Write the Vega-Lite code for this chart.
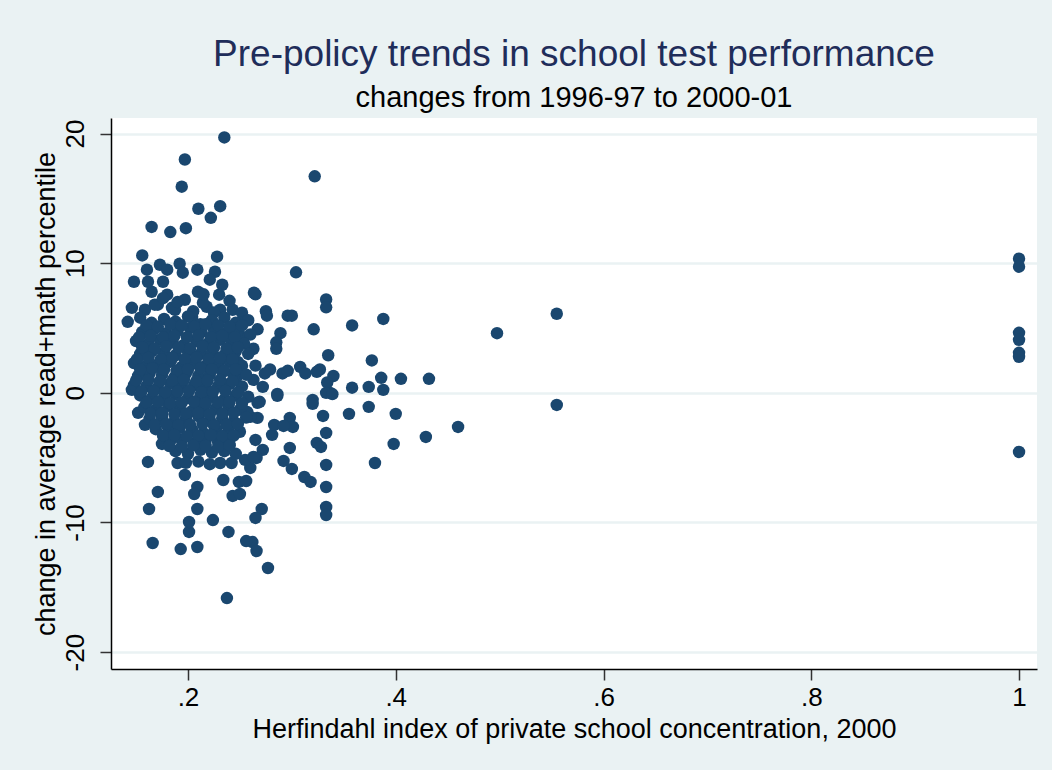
{
  "$schema": "https://vega.github.io/schema/vega-lite/v6.json",
  "width": 926,
  "height": 551,
  "autosize": {"type": "none"},
  "padding": {"left": 111, "top": 118, "right": 15, "bottom": 101},
  "background": "#eaf2f3",
  "title": {
    "text": "Pre-policy trends in school test performance",
    "subtitle": "changes from 1996-97 to 2000-01",
    "anchor": "middle",
    "frame": "group",
    "font": "Liberation Sans",
    "fontSize": 37,
    "fontWeight": "normal",
    "color": "#1f2d5a",
    "subtitleFont": "Liberation Sans",
    "subtitleFontSize": 29,
    "subtitleColor": "#000000",
    "subtitlePadding": 10,
    "offset": 4
  },
  "config": {
    "view": {"stroke": null, "fill": "#ffffff"},
    "axis": {
      "labelFont": "Liberation Sans",
      "titleFont": "Liberation Sans",
      "labelFontSize": 26,
      "titleFontSize": 27,
      "titleFontWeight": "normal",
      "labelColor": "#000000",
      "titleColor": "#000000",
      "domainColor": "#000000",
      "tickColor": "#333333",
      "domainWidth": 1.5,
      "tickWidth": 1.5,
      "tickSize": 11
    }
  },
  "data": {
    "values": [
      {"h": 0.235, "c": 19.7}, {"h": 0.197, "c": 18.0}, {"h": 0.194, "c": 15.9}, {"h": 0.210, "c": 14.2},
      {"h": 0.222, "c": 13.5}, {"h": 0.231, "c": 14.4}, {"h": 0.165, "c": 12.8}, {"h": 0.183, "c": 12.4},
      {"h": 0.198, "c": 12.7}, {"h": 0.156, "c": 10.6}, {"h": 0.228, "c": 10.5}, {"h": 0.322, "c": 16.7},
      {"h": 0.304, "c": 9.3}, {"h": 0.265, "c": 7.6}, {"h": 0.275, "c": 6.3}, {"h": 0.276, "c": 5.95},
      {"h": 0.296, "c": 5.95}, {"h": 0.300, "c": 5.95}, {"h": 0.333, "c": 7.2}, {"h": 0.333, "c": 6.6},
      {"h": 0.267, "c": 4.9}, {"h": 0.289, "c": 4.6}, {"h": 0.321, "c": 4.9}, {"h": 0.358, "c": 5.2},
      {"h": 0.388, "c": 5.7}, {"h": 0.4975, "c": 4.6}, {"h": 0.263, "c": 3.4}, {"h": 0.285, "c": 3.9},
      {"h": 0.285, "c": 3.4}, {"h": 0.335, "c": 2.9}, {"h": 0.377, "c": 2.5}, {"h": 0.265, "c": 2.1},
      {"h": 0.279, "c": 1.8}, {"h": 0.274, "c": 1.5}, {"h": 0.291, "c": 1.5}, {"h": 0.296, "c": 1.7},
      {"h": 0.308, "c": 2.0}, {"h": 0.313, "c": 1.5}, {"h": 0.327, "c": 1.8}, {"h": 0.340, "c": 1.3},
      {"h": 0.334, "c": 0.8}, {"h": 0.337, "c": 0.0}, {"h": 0.263, "c": 1.0}, {"h": 0.272, "c": 0.46},
      {"h": 0.286, "c": -0.08}, {"h": 0.358, "c": 0.4}, {"h": 0.374, "c": 0.46}, {"h": 0.386, "c": 1.16},
      {"h": 0.388, "c": 0.23}, {"h": 0.405, "c": 1.08}, {"h": 0.432, "c": 1.08}, {"h": 0.320, "c": -0.54},
      {"h": 0.333, "c": 0.0}, {"h": 0.339, "c": -0.1}, {"h": 0.267, "c": -0.77}, {"h": 0.286, "c": -0.23},
      {"h": 0.320, "c": -0.85}, {"h": 0.330, "c": -1.78}, {"h": 0.355, "c": -1.62}, {"h": 0.374, "c": -1.08},
      {"h": 0.400, "c": -1.62}, {"h": 0.460, "c": -2.63}, {"h": 0.429, "c": -3.4}, {"h": 0.398, "c": -3.94},
      {"h": 0.380, "c": -5.41}, {"h": 0.333, "c": -3.09}, {"h": 0.324, "c": -3.86}, {"h": 0.328, "c": -4.17},
      {"h": 0.333, "c": -5.56}, {"h": 0.333, "c": -7.26}, {"h": 0.333, "c": -8.8}, {"h": 0.333, "c": -9.42},
      {"h": 0.298, "c": -4.25}, {"h": 0.292, "c": -5.25}, {"h": 0.300, "c": -5.87}, {"h": 0.312, "c": -6.49},
      {"h": 0.318, "c": -6.87}, {"h": 0.265, "c": -3.63}, {"h": 0.272, "c": -4.4}, {"h": 0.266, "c": -5.02},
      {"h": 0.260, "c": -5.79}, {"h": 0.281, "c": -3.24}, {"h": 0.283, "c": -2.47}, {"h": 0.298, "c": -1.93},
      {"h": 0.301, "c": -2.63}, {"h": 0.292, "c": -2.55}, {"h": 0.267, "c": -1.93}, {"h": 0.260, "c": -1.85},
      {"h": 0.271, "c": -8.96}, {"h": 0.265, "c": -9.65}, {"h": 0.262, "c": -11.51}, {"h": 0.266, "c": -12.2},
      {"h": 0.277, "c": -13.51}, {"h": 0.166, "c": -11.58}, {"h": 0.193, "c": -12.05}, {"h": 0.209, "c": -11.89},
      {"h": 0.201, "c": -10.73}, {"h": 0.201, "c": -9.96}, {"h": 0.224, "c": -9.81}, {"h": 0.239, "c": -10.73},
      {"h": 0.256, "c": -11.43}, {"h": 0.2375, "c": -15.83}, {"h": 0.1615, "c": -5.33}, {"h": 0.171, "c": -7.64},
      {"h": 0.1625, "c": -8.96}, {"h": 0.175, "c": -3.94}, {"h": 0.190, "c": -5.41}, {"h": 0.197, "c": -6.33},
      {"h": 0.209, "c": -7.26}, {"h": 0.206, "c": -7.8}, {"h": 0.209, "c": -8.96}, {"h": 0.234, "c": -6.72},
      {"h": 0.249, "c": -6.87}, {"h": 0.256, "c": -6.8}, {"h": 0.243, "c": -7.95}, {"h": 0.250, "c": -7.8},
      {"h": 0.231, "c": -5.41}, {"h": 0.242, "c": -5.41}, {"h": 0.255, "c": -5.17}, {"h": 0.263, "c": -4.94},
      {"h": 0.257, "c": -1.47}, {"h": 0.2385, "c": -3.09}, {"h": 0.234, "c": -3.63}, {"h": 0.240, "c": -4.02},
      {"h": 0.269, "c": -0.69}, {"h": 0.148, "c": 8.57}, {"h": 0.1605, "c": 9.5}, {"h": 0.173, "c": 9.88},
      {"h": 0.180, "c": 9.5}, {"h": 0.192, "c": 9.96}, {"h": 0.209, "c": 9.5}, {"h": 0.226, "c": 9.34},
      {"h": 0.221, "c": 8.73}, {"h": 0.233, "c": 8.34}, {"h": 0.195, "c": 9.27}, {"h": 0.165, "c": 7.8},
      {"h": 0.176, "c": 8.57}, {"h": 0.180, "c": 7.57}, {"h": 0.2096, "c": 7.8}, {"h": 0.230, "c": 7.57},
      {"h": 0.142, "c": 5.48}, {"h": 0.146, "c": 6.56}, {"h": 0.1586, "c": 6.41}, {"h": 0.171, "c": 6.8},
      {"h": 0.1846, "c": 6.56}, {"h": 0.197, "c": 7.18}, {"h": 0.218, "c": 6.64}, {"h": 0.231, "c": 6.41},
      {"h": 0.243, "c": 6.41}, {"h": 0.252, "c": 6.18}, {"h": 0.2635, "c": 7.72}, {"h": 0.250, "c": 5.41},
      {"h": 0.252, "c": 4.32}, {"h": 0.248, "c": 2.39}, {"h": 0.247, "c": 1.24}, {"h": 0.234, "c": 2.7},
      {"h": 0.324, "c": 1.62}, {"h": 0.1615, "c": 8.57}, {"h": 0.2144, "c": 6.95}, {"h": 0.204, "c": 5.87},
      {"h": 0.1875, "c": 6.41}, {"h": 0.168, "c": 6.8}, {"h": 0.152, "c": -1.54}, {"h": 0.1586, "c": -2.47},
      {"h": 0.175, "c": -1.7}, {"h": 0.181, "c": -2.63}, {"h": 0.194, "c": -3.63}, {"h": 0.204, "c": -2.86},
      {"h": 0.146, "c": 0.23}, {"h": 0.555, "c": 6.1}, {"h": 0.555, "c": -0.93},
      {"h": 1.0, "c": 10.35}, {"h": 1.0, "c": 9.73}, {"h": 1.0, "c": 4.63}, {"h": 1.0, "c": 4.09},
      {"h": 1.0, "c": 3.09}, {"h": 1.0, "c": 2.78}, {"h": 1.0, "c": -4.56},
      {"h": 0.190, "c": 7.0}, {"h": 0.215, "c": 7.6}, {"h": 0.225, "c": 6.2}, {"h": 0.240, "c": 7.1},
      {"h": 0.176, "c": 7.3}, {"h": 0.205, "c": 6.3},
      {"h": 0.154, "c": 5.8}, {"h": 0.165, "c": 5.4}, {"h": 0.177, "c": 5.7}, {"h": 0.188, "c": 5.5},
      {"h": 0.200, "c": 5.9}, {"h": 0.212, "c": 5.3}, {"h": 0.223, "c": 5.6}, {"h": 0.235, "c": 5.8},
      {"h": 0.246, "c": 5.4}, {"h": 0.258, "c": 5.6},
      {"h": 0.156, "c": 4.7}, {"h": 0.167, "c": 4.9}, {"h": 0.179, "c": 4.6}, {"h": 0.190, "c": 4.8},
      {"h": 0.202, "c": 5.0}, {"h": 0.213, "c": 4.7}, {"h": 0.225, "c": 4.9}, {"h": 0.237, "c": 4.6},
      {"h": 0.248, "c": 4.8}, {"h": 0.260, "c": 4.5},
      {"h": 0.150, "c": 4.0}, {"h": 0.162, "c": 3.8}, {"h": 0.173, "c": 4.1}, {"h": 0.185, "c": 3.9},
      {"h": 0.196, "c": 3.7}, {"h": 0.208, "c": 4.0}, {"h": 0.219, "c": 3.8}, {"h": 0.231, "c": 4.1},
      {"h": 0.242, "c": 3.9}, {"h": 0.254, "c": 3.8},
      {"h": 0.154, "c": 3.0}, {"h": 0.165, "c": 3.2}, {"h": 0.177, "c": 3.1}, {"h": 0.188, "c": 2.9},
      {"h": 0.200, "c": 3.2}, {"h": 0.212, "c": 3.0}, {"h": 0.223, "c": 3.1}, {"h": 0.235, "c": 2.9},
      {"h": 0.246, "c": 3.2}, {"h": 0.258, "c": 3.0},
      {"h": 0.148, "c": 2.3}, {"h": 0.160, "c": 2.1}, {"h": 0.171, "c": 2.2}, {"h": 0.183, "c": 2.4},
      {"h": 0.194, "c": 2.0}, {"h": 0.206, "c": 2.3}, {"h": 0.217, "c": 2.1}, {"h": 0.229, "c": 2.2},
      {"h": 0.240, "c": 2.4}, {"h": 0.252, "c": 2.1},
      {"h": 0.152, "c": 1.3}, {"h": 0.163, "c": 1.5}, {"h": 0.175, "c": 1.4}, {"h": 0.187, "c": 1.2},
      {"h": 0.198, "c": 1.5}, {"h": 0.210, "c": 1.3}, {"h": 0.221, "c": 1.4}, {"h": 0.233, "c": 1.6},
      {"h": 0.244, "c": 1.3}, {"h": 0.256, "c": 1.4},
      {"h": 0.148, "c": 0.6}, {"h": 0.160, "c": 0.5}, {"h": 0.171, "c": 0.4}, {"h": 0.183, "c": 0.7},
      {"h": 0.194, "c": 0.5}, {"h": 0.206, "c": 0.6}, {"h": 0.217, "c": 0.4}, {"h": 0.229, "c": 0.5},
      {"h": 0.240, "c": 0.7}, {"h": 0.252, "c": 0.5},
      {"h": 0.154, "c": -0.2}, {"h": 0.165, "c": -0.4}, {"h": 0.177, "c": -0.3}, {"h": 0.188, "c": -0.1},
      {"h": 0.200, "c": -0.4}, {"h": 0.212, "c": -0.2}, {"h": 0.223, "c": -0.3}, {"h": 0.235, "c": -0.5},
      {"h": 0.246, "c": -0.2}, {"h": 0.258, "c": -0.3},
      {"h": 0.158, "c": -1.1}, {"h": 0.169, "c": -1.3}, {"h": 0.181, "c": -1.0}, {"h": 0.192, "c": -1.2},
      {"h": 0.204, "c": -1.4}, {"h": 0.215, "c": -1.1}, {"h": 0.227, "c": -1.2}, {"h": 0.239, "c": -1.0},
      {"h": 0.250, "c": -1.3},
      {"h": 0.163, "c": -2.0}, {"h": 0.175, "c": -1.9}, {"h": 0.187, "c": -2.2}, {"h": 0.198, "c": -2.0},
      {"h": 0.210, "c": -1.8}, {"h": 0.221, "c": -2.1}, {"h": 0.233, "c": -2.0}, {"h": 0.244, "c": -2.2},
      {"h": 0.256, "c": -1.9},
      {"h": 0.169, "c": -2.8}, {"h": 0.181, "c": -3.0}, {"h": 0.192, "c": -2.7}, {"h": 0.204, "c": -2.9},
      {"h": 0.215, "c": -3.1}, {"h": 0.227, "c": -2.8}, {"h": 0.239, "c": -2.9}, {"h": 0.250, "c": -3.0},
      {"h": 0.183, "c": -3.7}, {"h": 0.194, "c": -3.6}, {"h": 0.206, "c": -3.9}, {"h": 0.217, "c": -3.7},
      {"h": 0.229, "c": -3.8}, {"h": 0.240, "c": -3.6},
      {"h": 0.188, "c": -4.5}, {"h": 0.200, "c": -4.7}, {"h": 0.212, "c": -4.4}, {"h": 0.223, "c": -4.6},
      {"h": 0.235, "c": -4.5}, {"h": 0.246, "c": -4.7},
      {"h": 0.198, "c": -5.4}, {"h": 0.210, "c": -5.3}, {"h": 0.221, "c": -5.5},
      {"h": 0.160, "c": 5.2}, {"h": 0.171, "c": 5.1}, {"h": 0.183, "c": 5.3}, {"h": 0.194, "c": 5.2},
      {"h": 0.206, "c": 5.1}, {"h": 0.217, "c": 5.3}, {"h": 0.229, "c": 5.2}, {"h": 0.240, "c": 5.1},
      {"h": 0.252, "c": 5.2},
      {"h": 0.153, "c": 4.3}, {"h": 0.164, "c": 4.4}, {"h": 0.176, "c": 4.3}, {"h": 0.187, "c": 4.4},
      {"h": 0.199, "c": 4.3}, {"h": 0.210, "c": 4.4}, {"h": 0.222, "c": 4.3}, {"h": 0.233, "c": 4.4},
      {"h": 0.245, "c": 4.3},
      {"h": 0.156, "c": 3.5}, {"h": 0.168, "c": 3.4}, {"h": 0.179, "c": 3.6}, {"h": 0.191, "c": 3.5},
      {"h": 0.202, "c": 3.4}, {"h": 0.214, "c": 3.6}, {"h": 0.225, "c": 3.5}, {"h": 0.237, "c": 3.4},
      {"h": 0.248, "c": 3.5},
      {"h": 0.151, "c": 2.6}, {"h": 0.162, "c": 2.7}, {"h": 0.174, "c": 2.6}, {"h": 0.185, "c": 2.7},
      {"h": 0.197, "c": 2.6}, {"h": 0.208, "c": 2.7}, {"h": 0.220, "c": 2.6}, {"h": 0.231, "c": 2.7},
      {"h": 0.243, "c": 2.6},
      {"h": 0.154, "c": 1.8}, {"h": 0.166, "c": 1.9}, {"h": 0.177, "c": 1.8}, {"h": 0.189, "c": 1.7},
      {"h": 0.200, "c": 1.8}, {"h": 0.212, "c": 1.9}, {"h": 0.223, "c": 1.8}, {"h": 0.235, "c": 1.7},
      {"h": 0.246, "c": 1.8},
      {"h": 0.150, "c": 0.95}, {"h": 0.162, "c": 1.0}, {"h": 0.173, "c": 0.9}, {"h": 0.185, "c": 0.95},
      {"h": 0.196, "c": 1.0}, {"h": 0.208, "c": 0.9}, {"h": 0.219, "c": 0.95}, {"h": 0.231, "c": 1.0},
      {"h": 0.243, "c": 0.9},
      {"h": 0.155, "c": 0.1}, {"h": 0.167, "c": 0.15}, {"h": 0.178, "c": 0.05}, {"h": 0.190, "c": 0.1},
      {"h": 0.201, "c": 0.15}, {"h": 0.213, "c": 0.05}, {"h": 0.224, "c": 0.1}, {"h": 0.236, "c": 0.15},
      {"h": 0.248, "c": 0.05},
      {"h": 0.160, "c": -0.75}, {"h": 0.171, "c": -0.7}, {"h": 0.183, "c": -0.8}, {"h": 0.194, "c": -0.75},
      {"h": 0.206, "c": -0.7}, {"h": 0.217, "c": -0.8}, {"h": 0.229, "c": -0.75}, {"h": 0.240, "c": -0.7},
      {"h": 0.252, "c": -0.8},
      {"h": 0.164, "c": -1.6}, {"h": 0.175, "c": -1.55}, {"h": 0.187, "c": -1.65}, {"h": 0.198, "c": -1.6},
      {"h": 0.210, "c": -1.55}, {"h": 0.221, "c": -1.65}, {"h": 0.233, "c": -1.6}, {"h": 0.244, "c": -1.55},
      {"h": 0.168, "c": -2.45}, {"h": 0.179, "c": -2.4}, {"h": 0.191, "c": -2.5}, {"h": 0.202, "c": -2.45},
      {"h": 0.214, "c": -2.4}, {"h": 0.225, "c": -2.5}, {"h": 0.237, "c": -2.45}, {"h": 0.248, "c": -2.4},
      {"h": 0.176, "c": -3.3}, {"h": 0.187, "c": -3.25}, {"h": 0.199, "c": -3.35}, {"h": 0.210, "c": -3.3},
      {"h": 0.222, "c": -3.25}, {"h": 0.233, "c": -3.35}, {"h": 0.244, "c": -3.3},
      {"h": 0.182, "c": -4.1}, {"h": 0.194, "c": -4.15}, {"h": 0.205, "c": -4.05}, {"h": 0.217, "c": -4.1},
      {"h": 0.229, "c": -4.15}, {"h": 0.240, "c": -4.05}
    ]
  },
  "mark": {"type": "point", "shape": "circle", "filled": true, "opacity": 1, "color": "#1a476f", "size": 155},
  "encoding": {
    "x": {
      "field": "h",
      "type": "quantitative",
      "scale": {"domain": [0.1259, 1.0173], "nice": false, "zero": false},
      "axis": {
        "title": "Herfindahl index of private school concentration, 2000",
        "values": [0.2, 0.4, 0.6, 0.8, 1],
        "labelExpr": "datum.value == 1 ? '1' : replace(format(datum.value, '.1f'), '0.', '.')",
        "grid": false,
        "labelPadding": 4,
        "titlePadding": 6
      }
    },
    "y": {
      "field": "c",
      "type": "quantitative",
      "scale": {"domain": [-21.3, 21.2], "nice": false, "zero": false},
      "axis": {
        "title": "change in average read+math percentile",
        "values": [-20, -10, 0, 10, 20],
        "labelExpr": "'' + datum.value",
        "labelAngle": -90,
        "labelAlign": "center",
        "labelBaseline": "bottom",
        "labelPadding": 12,
        "titlePadding": 2,
        "grid": true,
        "gridColor": "#eaf2f3",
        "gridWidth": 2.5
      }
    }
  }
}
